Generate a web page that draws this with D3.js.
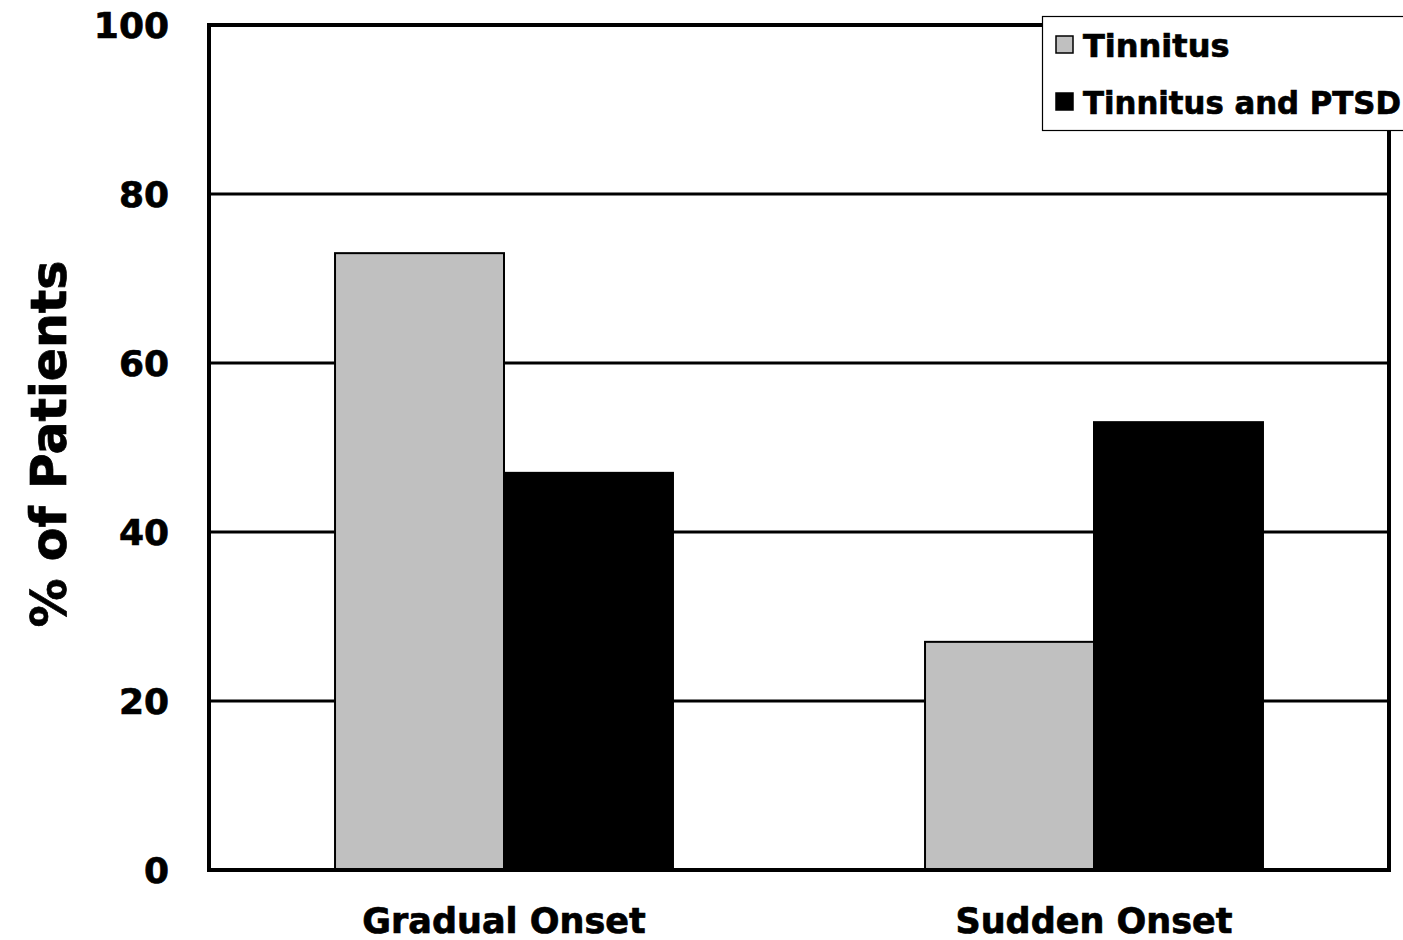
<!DOCTYPE html>
<html>
<head>
<meta charset="utf-8">
<script src="https://cdn.jsdelivr.net/npm/d3@7"></script>
<style>
  html, body { margin: 0; padding: 0; background: #fff; }
  svg { display: block; }
  text { font-family: "DejaVu Sans", Verdana, sans-serif; font-weight: bold; fill: #000; stroke: #000; stroke-width: 0.7px; }
</style>
</head>
<body>
<svg id="chart" width="1403" height="940"></svg>
<script>
// Onset type by patient group (% of patients)
const categories = ["Gradual Onset", "Sudden Onset"];
const seriesNames = ["Tinnitus", "Tinnitus and PTSD"];
const tinnitusValues = [73, 27];
const tinnitusPtsdValues = [47, 53];
const yTicks = [0, 20, 40, 60, 80, 100];
const seriesColors = ["#c0c0c0", "#000000"];

const seriesValues = [tinnitusValues, tinnitusPtsdValues];

const svg = d3.select("#chart");
const plot = { left: 209, right: 1389, top: 25, bottom: 870 };

const y = d3.scaleLinear().domain([0, 100]).range([plot.bottom, plot.top]);
const x0 = d3.scaleBand().domain(categories).range([plot.left, plot.right]).padding(0);
const groupGap = x0.bandwidth() * 0.2136;
const x1 = d3.scaleBand().domain(seriesNames)
  .range([groupGap, x0.bandwidth() - groupGap]).padding(0);

// Horizontal gridlines
svg.append("g")
  .selectAll("line")
  .data(yTicks.filter(t => t > 0 && t < 100))
  .join("line")
  .attr("x1", plot.left).attr("x2", plot.right)
  .attr("y1", d => y(d)).attr("y2", d => y(d))
  .attr("stroke", "#000").attr("stroke-width", 3);

// Bars
const rows = categories.map((c, i) => seriesNames.map((s, j) => ({ cat: c, series: s, value: seriesValues[j][i], k: j })));
svg.append("g")
  .selectAll("g")
  .data(rows)
  .join("g")
  .attr("transform", d => `translate(${x0(d[0].cat)},0)`)
  .selectAll("rect")
  .data(d => d)
  .join("rect")
  .attr("x", d => x1(d.series))
  .attr("y", d => y(d.value))
  .attr("width", x1.bandwidth())
  .attr("height", d => y(0) - y(d.value))
  .attr("fill", d => seriesColors[d.k])
  .attr("stroke", "#000")
  .attr("stroke-width", 2);

// Plot frame
svg.append("rect")
  .attr("x", plot.left).attr("y", plot.top)
  .attr("width", plot.right - plot.left).attr("height", plot.bottom - plot.top)
  .attr("fill", "none").attr("stroke", "#000").attr("stroke-width", 4);

// Y axis tick labels
const yAxis = d3.axisLeft(y).tickValues(yTicks).tickSize(0).tickPadding(0).tickFormat(d3.format("d"));
const gy = svg.append("g").attr("transform", `translate(${169},0)`).call(yAxis);
gy.select(".domain").remove();
gy.selectAll("text")
  .attr("font-size", 36)
  .attr("font-family", "DejaVu Sans, Verdana, sans-serif")
  .attr("font-weight", "bold")
  .attr("fill", "#000")
  .attr("dy", "0.36em");

// X axis category labels
const xAxis = d3.axisBottom(x0).tickSize(0).tickPadding(0);
const gx = svg.append("g").attr("transform", `translate(0,${plot.bottom})`).call(xAxis);
gx.select(".domain").remove();
gx.selectAll("text")
  .attr("font-size", 35)
  .attr("font-family", "DejaVu Sans, Verdana, sans-serif")
  .attr("font-weight", "bold")
  .attr("fill", "#000")
  .attr("y", 63)
  .attr("dy", 0);

// Y axis title
svg.append("text")
  .attr("transform", `translate(66,${(258 + 630) / 2}) rotate(-90)`)
  .attr("text-anchor", "middle")
  .attr("font-size", 49)
  .text("% of Patients");

// Legend
const legend = svg.append("g");
legend.append("rect")
  .attr("x", 1042.5).attr("y", 16.5)
  .attr("width", 400).attr("height", 114)
  .attr("fill", "#fff").attr("stroke", "#000").attr("stroke-width", 1.2);
const items = legend.selectAll("g.item")
  .data(seriesNames)
  .join("g").attr("class", "item")
  .attr("transform", (d, i) => `translate(0,${45 + i * 57})`);
items.append("rect")
  .attr("x", 1056).attr("y", -9)
  .attr("width", 17).attr("height", 17)
  .attr("fill", (d, i) => seriesColors[i])
  .attr("stroke", "#000").attr("stroke-width", 1.5);
items.append("text")
  .attr("x", 1083).attr("y", 0).attr("dy", "0.36em")
  .attr("font-size", 32)
  .text(d => d)
  .each(function () {
    // keep legend entries inside the visible canvas
    const maxW = 318;
    if (this.getComputedTextLength() > maxW) {
      d3.select(this).attr("textLength", maxW).attr("lengthAdjust", "spacingAndGlyphs");
    }
  });
</script>
</body>
</html>
